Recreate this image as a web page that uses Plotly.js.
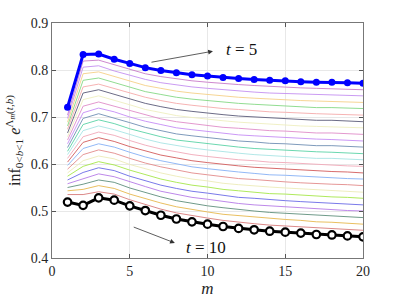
<!DOCTYPE html>
<html>
<head>
<meta charset="utf-8">
<script src="https://cdn.plot.ly/plotly-3.0.1.min.js"></script>
<style>html,body{margin:0;padding:0;background:#fff;}#chart{width:402px;height:301px;}</style>
</head>
<body>
<div id="chart"></div>
<script>
const m = [1,2,3,4,5,6,7,8,9,10,11,12,13,14,15,16,17,18,19,20];
const xTicks = [0,5,10,15,20];
const yTicks = [0.4,0.5,0.6,0.7,0.8,0.9];

// t = 5 (thick blue)
const seriesT5 = [0.721,0.833,0.834,0.823,0.814,0.805,0.799,0.794,0.790,0.787,0.784,0.782,0.780,0.778,0.777,0.775,0.774,0.774,0.773,0.772];
// t = 10 (thick black)
const seriesT10 = [0.519,0.512,0.528,0.523,0.511,0.501,0.491,0.483,0.477,0.472,0.467,0.463,0.460,0.457,0.455,0.453,0.450,0.449,0.447,0.445];

// intermediate t values, from just above t=10 (line1) up to just below t=5 (line23)
const line1  = [.535,.535,.541,.536,.524,.514,.504,.496,.490,.485,.480,.476,.473,.470,.468,.466,.464,.463,.461,.459];
const line2  = [.543,.546,.554,.548,.536,.526,.517,.509,.503,.498,.493,.490,.487,.484,.482,.480,.477,.476,.474,.472];
const line3  = [.550,.557,.566,.561,.549,.539,.530,.522,.516,.511,.507,.503,.500,.497,.495,.493,.491,.490,.488,.486];
const line4  = [.558,.569,.579,.573,.562,.552,.542,.535,.529,.525,.520,.516,.513,.511,.509,.507,.504,.503,.501,.500];
const line5  = [.566,.582,.592,.586,.574,.564,.555,.548,.542,.538,.533,.529,.527,.524,.522,.520,.518,.517,.515,.513];
const line6  = [.574,.595,.605,.598,.587,.577,.568,.561,.555,.551,.546,.543,.540,.537,.536,.534,.531,.530,.529,.527];
const line7  = [.581,.607,.617,.611,.599,.590,.581,.574,.568,.564,.559,.556,.553,.551,.549,.547,.545,.544,.542,.540];
const line8  = [.589,.620,.630,.623,.612,.602,.594,.587,.581,.577,.573,.569,.567,.564,.562,.560,.558,.557,.556,.554];
const line9  = [.597,.633,.643,.636,.625,.615,.607,.600,.594,.590,.586,.583,.580,.577,.576,.574,.572,.571,.569,.568];
const line10 = [.604,.646,.656,.648,.637,.628,.619,.613,.607,.603,.599,.596,.593,.591,.589,.587,.585,.584,.583,.581];
const line11 = [.612,.658,.668,.661,.650,.640,.632,.626,.620,.616,.612,.609,.607,.604,.603,.601,.599,.598,.596,.595];
const line12 = [.620,.671,.681,.673,.663,.653,.645,.639,.634,.630,.626,.623,.620,.618,.616,.614,.612,.612,.610,.609];
const line13 = [.627,.684,.694,.686,.675,.666,.658,.651,.647,.643,.639,.636,.633,.631,.629,.627,.626,.625,.624,.622];
const line14 = [.635,.697,.707,.698,.688,.678,.671,.664,.660,.656,.652,.649,.647,.644,.643,.641,.639,.639,.637,.636];
const line15 = [.643,.709,.719,.711,.700,.691,.684,.677,.673,.669,.665,.662,.660,.658,.656,.654,.653,.652,.651,.649];
const line16 = [.651,.723,.732,.723,.713,.704,.696,.690,.686,.682,.678,.676,.673,.671,.670,.668,.666,.666,.664,.663];
const line17 = [.658,.737,.745,.736,.726,.716,.709,.703,.699,.695,.692,.689,.687,.684,.683,.681,.680,.679,.678,.677];
const line18 = [.666,.751,.758,.748,.738,.729,.722,.716,.712,.708,.705,.702,.700,.698,.697,.695,.693,.693,.692,.690];
const line19 = [.674,.764,.770,.761,.751,.742,.735,.729,.725,.721,.718,.716,.713,.711,.710,.708,.707,.706,.705,.704];
const line20 = [.681,.778,.783,.773,.764,.754,.748,.742,.738,.735,.731,.729,.727,.725,.723,.721,.720,.720,.719,.718];
const line21 = [.689,.792,.796,.786,.776,.767,.761,.755,.751,.748,.744,.742,.740,.738,.737,.735,.734,.733,.732,.731];
const line22 = [.697,.806,.809,.798,.789,.780,.773,.768,.764,.761,.758,.755,.753,.751,.750,.748,.747,.747,.746,.745];
const line23 = [.704,.819,.821,.811,.801,.792,.786,.781,.777,.774,.771,.769,.767,.765,.764,.762,.761,.760,.759,.758];

const thinLines = [line1,line2,line3,line4,line5,line6,line7,line8,line9,line10,line11,line12,
  line13,line14,line15,line16,line17,line18,line19,line20,line21,line22,line23];
const thinColors = ['#d77a7a','#e6b84e','#5f8f7c','#b57ae6','#6a6ae6','#a6e64a','#ecebb8','#e28a8a',
  '#86b0f5','#d35b5b','#f0a8b8','#a8e4e4','#5ad2a6','#6f8fb3','#c58cf5','#e08cc8','#eeeec0',
  '#5a5a78','#f5aaaa','#84d884','#f5d088','#c490f0','#c87ac8'];

const traces = [];
thinLines.forEach((ys, i) => {
  traces.push({x: m, y: ys, type: 'scatter', mode: 'lines',
    line: {color: thinColors[i], width: 0.9}, hoverinfo: 'skip', showlegend: false});
});
traces.push({x: m, y: seriesT5, type: 'scatter', mode: 'lines+markers',
  line: {color: '#0000ff', width: 3}, marker: {color: '#0000ff', size: 7}, showlegend: false});
traces.push({x: m, y: seriesT10, type: 'scatter', mode: 'lines+markers',
  line: {color: '#000000', width: 3},
  marker: {color: '#ffffff', size: 7.5, line: {color: '#000000', width: 2.2}}, showlegend: false});

const serif = "'Liberation Serif', 'Times New Roman', serif";
const layout = {
  width: 402, height: 301,
  margin: {l: 52, r: 39, t: 23, b: 43},
  paper_bgcolor: '#ffffff', plot_bgcolor: '#ffffff',
  font: {family: serif, color: '#262626', size: 14},
  xaxis: {range: [0, 20], tickvals: xTicks, ticktext: xTicks.map(String),
    ticks: 'inside', ticklen: 4, tickcolor: '#555', showline: true, linecolor: '#777', linewidth: 1,
    mirror: 'ticks', showgrid: true, gridcolor: '#e8e8e8', gridwidth: 1, zeroline: false,
    tickfont: {family: serif, size: 14, color: '#262626'},
    title: {text: '<i>m</i>', font: {family: serif, size: 17, color: '#262626'}, standoff: 4}},
  yaxis: {range: [0.4, 0.9], tickvals: yTicks, ticktext: yTicks.map(v => v.toFixed(1)),
    ticks: 'inside', ticklen: 4, tickcolor: '#555', showline: true, linecolor: '#777', linewidth: 1,
    mirror: 'ticks', showgrid: true, gridcolor: '#e8e8e8', gridwidth: 1, zeroline: false,
    tickfont: {family: serif, size: 14, color: '#262626'},
    title: {text: 'inf<sub>0&lt;<i>b</i>&lt;1</sub> <i>e</i><sup>Λ<sub><i>m</i></sub>(<i>t</i>,<i>b</i>)</sup>',
      font: {family: serif, size: 16, color: '#262626'}, standoff: 6}},
  annotations: [
    {x: 10.35, y: 0.840, ax: 6.3, ay: 0.816, xref: 'x', yref: 'y', axref: 'x', ayref: 'y',
      text: '', showarrow: true, arrowhead: 2, arrowsize: 1.2, arrowwidth: 0.8, arrowcolor: '#333'},
    {x: 12.2, y: 0.844, xref: 'x', yref: 'y', text: '<i>t</i> = 5', showarrow: false,
      font: {family: serif, size: 17, color: '#111'}},
    {x: 7.9, y: 0.432, ax: 5.16, ay: 0.467, xref: 'x', yref: 'y', axref: 'x', ayref: 'y',
      text: '', showarrow: true, arrowhead: 2, arrowsize: 1.2, arrowwidth: 0.8, arrowcolor: '#333'},
    {x: 9.9, y: 0.423, xref: 'x', yref: 'y', text: '<i>t</i> = 10', showarrow: false,
      font: {family: serif, size: 17, color: '#111'}}
  ]
};
Plotly.newPlot('chart', traces, layout, {displayModeBar: false, staticPlot: true});
</script>
</body>
</html>
